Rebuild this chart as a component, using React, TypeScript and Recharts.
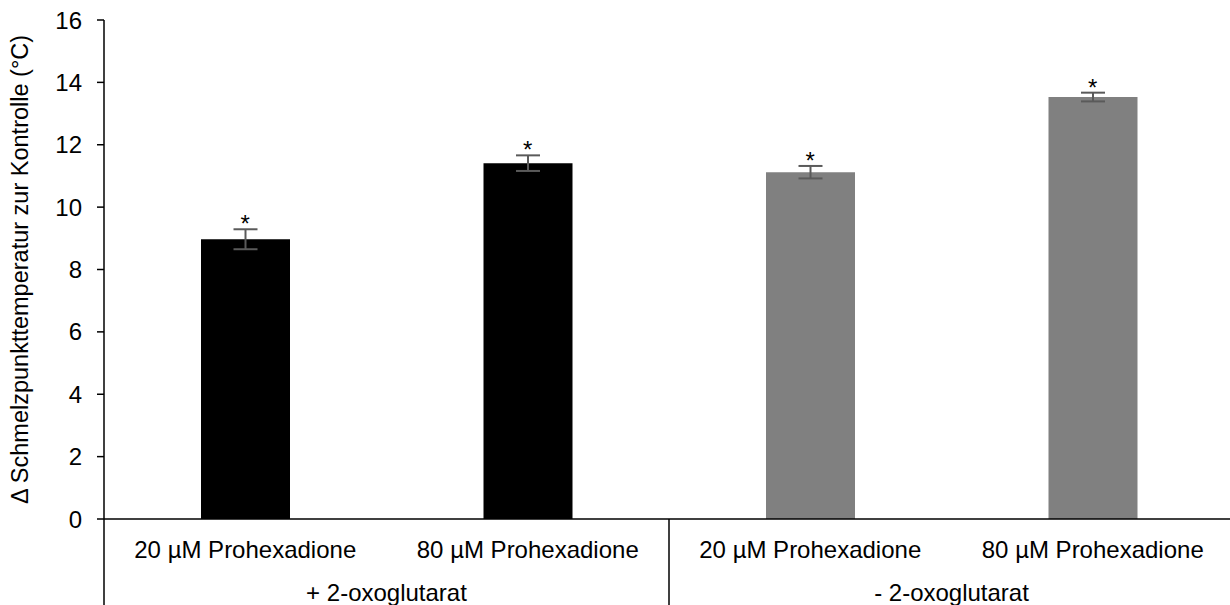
import React from 'react';
import { ComposedChart, Bar, Cell, XAxis, YAxis, ErrorBar, Scatter } from 'recharts';

const categories = ['20 µM Prohexadione', '80 µM Prohexadione', '20 µM Prohexadione', '80 µM Prohexadione'];
const groups = ['+ 2-oxoglutarat', '- 2-oxoglutarat'];
const values = [8.97, 11.41, 11.12, 13.53];
const errors = [0.32, 0.25, 0.2, 0.14];
const significance = ['*', '*', '*', '*'];
const barColors = ['#000000', '#000000', '#808080', '#808080'];
const yTicks = [0, 2, 4, 6, 8, 10, 12, 14, 16];
const yLabel = 'Δ Schmelzpunkttemperatur zur Kontrolle (°C)';

const FONT = '"Liberation Sans", Arial, sans-serif';

const data = categories.map((c, i) => ({
  key: `c${i}`,
  name: c,
  pos: i + 0.5,
  value: values[i],
  err: errors[i],
  top: values[i] + errors[i],
  sig: significance[i],
}));

const perGroup = categories.length / groups.length;
const groupTicks: number[] = [];
for (let i = 0; i <= categories.length; i++) groupTicks.push(i);

const CatTick = (props: any) => {
  const { x, y, index } = props;
  return (
    <text x={x} y={y + 30} textAnchor="middle" dominantBaseline="central" fontSize={24} fontFamily={FONT} fill="#000">
      {categories[index]}
    </text>
  );
};

const GroupTick = (props: any) => {
  const { x, y, payload } = props;
  const v = payload.value as number;
  if (v % perGroup === 0) {
    return <line x1={x} x2={x} y1={y - 43} y2={y + 43} stroke="#000" strokeWidth={1.5} />;
  }
  const gi = Math.floor(v / perGroup);
  return (
    <text x={x} y={y + 30} textAnchor="middle" dominantBaseline="central" fontSize={24} fontFamily={FONT} fill="#000">
      {groups[gi]}
    </text>
  );
};

const StarShape = (props: any) => {
  const { cx, cy, payload } = props;
  return (
    <text x={cx} y={cy + 3} textAnchor="middle" fontSize={24} fontFamily={FONT} fill="#000">
      {payload.sig}
    </text>
  );
};

const YLabel = (props: any) => {
  const { viewBox } = props;
  const cx = 20;
  const cy = viewBox.y + viewBox.height / 2;
  return (
    <text x={cx} y={cy} transform={`rotate(-90, ${cx}, ${cy})`} textAnchor="middle" dominantBaseline="central" fontSize={23.5} fontFamily={FONT} fill="#000">
      {yLabel}
    </text>
  );
};

export default function App() {
  return (
    <div style={{ position: 'absolute', left: 0, top: 0, width: 1230, height: 605, overflow: 'hidden', background: '#fff' }}>
      <ComposedChart width={1240} height={605} data={data} margin={{ top: 20, right: 6, bottom: 0, left: 0 }}>
        <XAxis
          xAxisId="cat"
          dataKey="key"
          type="category"
          height={43}
          axisLine={{ stroke: '#000', strokeWidth: 1.5 }}
          tickLine={false}
          tickSize={0}
          tickMargin={0}
          tick={<CatTick />}
          interval={0}
        />
        <XAxis
          xAxisId="grp"
          dataKey="pos"
          type="number"
          domain={[0, categories.length]}
          ticks={groupTicks}
          allowDataOverflow
          padding={{ left: 0, right: 0 }}
          height={43}
          axisLine={false}
          tickLine={false}
          tickSize={0}
          tickMargin={0}
          tick={<GroupTick />}
          interval={0}
        />
        <YAxis
          yAxisId="y"
          width={104}
          domain={[0, 16]}
          ticks={yTicks}
          interval={0}
          axisLine={{ stroke: '#000', strokeWidth: 1.5 }}
          tickLine={{ stroke: '#000', strokeWidth: 1.5 }}
          tickSize={7}
          tickMargin={15}
          tick={{ fontSize: 24, fontFamily: FONT, fill: '#000' }}
          label={<YLabel />}
        />
        <Bar xAxisId="cat" yAxisId="y" dataKey="value" barSize={89} isAnimationActive={false}>
          {data.map((d, i) => (
            <Cell key={d.key} fill={barColors[i]} />
          ))}
          <ErrorBar dataKey="err" width={12} stroke="#5a5a5a" strokeWidth={2} />
        </Bar>
        <Scatter xAxisId="cat" yAxisId="y" dataKey="top" shape={<StarShape />} isAnimationActive={false} />
      </ComposedChart>
    </div>
  );
}
